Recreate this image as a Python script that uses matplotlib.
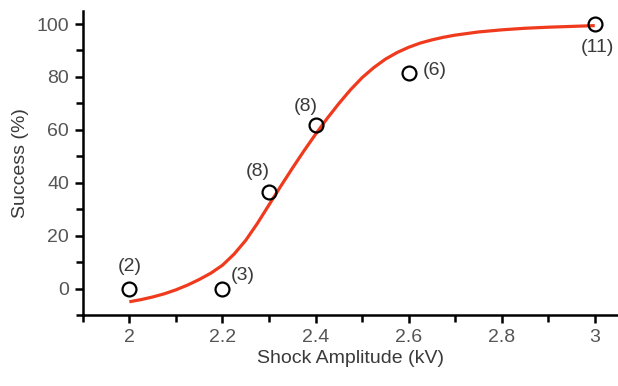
import matplotlib
matplotlib.use("Agg")
import matplotlib.pyplot as plt
from matplotlib.ticker import MultipleLocator

# Data points
amp = [2.0, 2.2, 2.3, 2.4, 2.6, 3.0]
success = [0, 0, 36.5, 62, 81.5, 100]
counts = ["(2)", "(3)", "(8)", "(8)", "(6)", "(11)"]
# label offsets in pixels (dx, dy) relative to the point
label_dx = [0, 20, -11, -10, 26, 3]
label_dy = [22, 13, 20, 18, 2, -23]

# Fitted curve
curve_x = [2.0, 2.025, 2.05, 2.075, 2.1, 2.125, 2.15, 2.175, 2.2, 2.225,
           2.25, 2.275, 2.3, 2.325, 2.35, 2.375, 2.4, 2.425, 2.45, 2.475,
           2.5, 2.525, 2.55, 2.575, 2.6, 2.625, 2.65, 2.675, 2.7, 2.75,
           2.8, 2.85, 2.9, 2.95, 3.0]
curve_y = [-5.0, -4.2, -3.2, -2.0, -0.5, 1.3, 3.4, 5.8, 8.8, 13.0,
           18.2, 24.6, 31.6, 38.6, 45.4, 52.0, 58.3, 64.3, 69.9, 75.1,
           79.7, 83.5, 86.7, 89.2, 91.2, 92.8, 94.0, 95.0, 95.8, 97.0,
           97.8, 98.4, 98.8, 99.1, 99.4]

xticks = [2, 2.2, 2.4, 2.6, 2.8, 3]
xtick_labels = ["2", "2.2", "2.4", "2.6", "2.8", "3"]
yticks = [0, 20, 40, 60, 80, 100]

plt.rcParams['font.family'] = ['Liberation Sans', 'DejaVu Sans']
gray = '#555555'

fig = plt.figure(figsize=(6.18, 3.86), dpi=100)
ax = fig.add_axes([0.134, 0.184, 0.866, 0.788])

ax.plot(curve_x, curve_y, color='#f03a1e', lw=2.3, zorder=2,
        solid_capstyle='butt', solid_joinstyle='round')
ax.plot(amp, success, 'o', ms=10, mfc='none', mec='black', mew=1.6, zorder=3)

for x, y, t, dx, dy in zip(amp, success, counts, label_dx, label_dy):
    ax.annotate(t, (x, y), xytext=(dx * 0.72, dy * 0.72), textcoords='offset points',
                ha='center', va='center', fontsize=14, color='#3a3a3a')

ax.set_xlim(1.9, 3.05)
ax.set_ylim(-10, 105)
ax.set_xticks(xticks)
ax.set_xticklabels(xtick_labels)
ax.set_yticks(yticks)
ax.xaxis.set_minor_locator(MultipleLocator(0.1))
ax.yaxis.set_minor_locator(MultipleLocator(10))

for s in ['top', 'right']:
    ax.spines[s].set_visible(False)
for s in ['left', 'bottom']:
    ax.spines[s].set_linewidth(1.8)

ax.tick_params(which='major', direction='out', length=6, width=1.8,
               labelsize=14, labelcolor=gray, pad=4)
ax.tick_params(which='minor', direction='out', length=5, width=1.8)

ax.set_xlabel('Shock Amplitude (kV)', fontsize=14, color='#3a3a3a', labelpad=3)
ax.set_ylabel('Success (%)', fontsize=14, color='#3a3a3a', labelpad=5)

fig.savefig('out.png', dpi=100)
